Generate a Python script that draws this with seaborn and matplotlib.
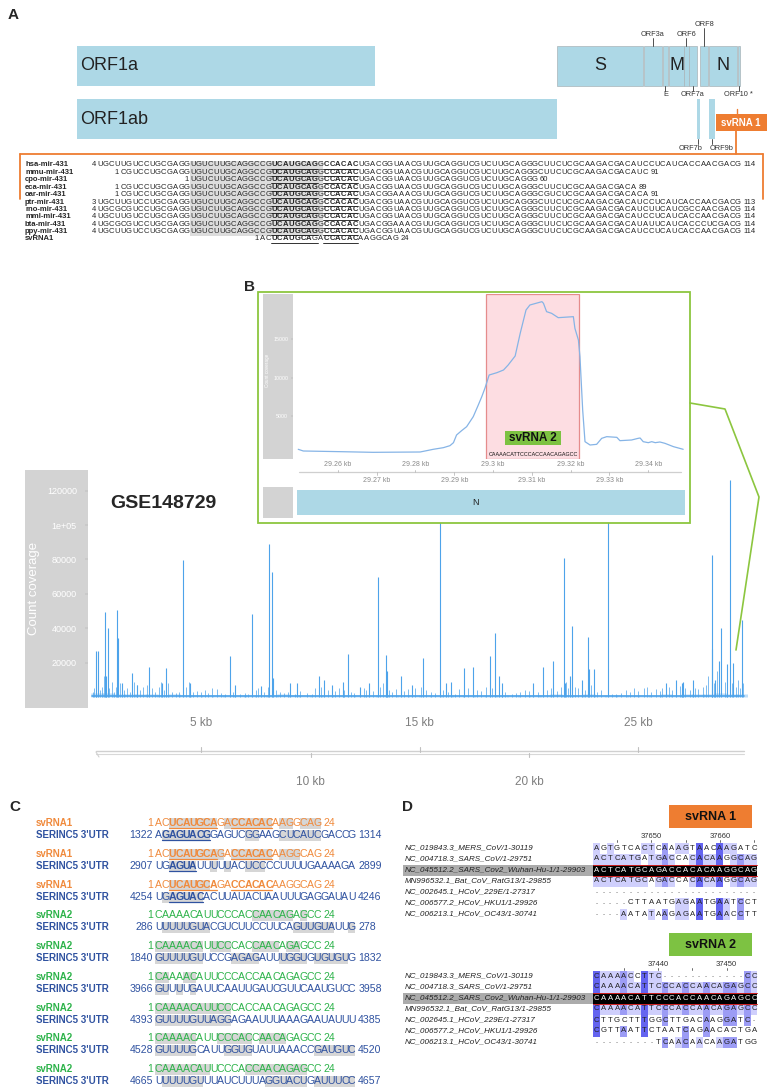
import numpy as np
import pandas as pd
import matplotlib
matplotlib.use("Agg")
import matplotlib.pyplot as plt
from matplotlib.patches import Rectangle
import seaborn as sns
from collections import Counter

W, H = 767, 1088

# ---------------- panel A: genome map (SARS-CoV-2 bp) ----------------
top_genes = ["S", "ORF3a", "E", "M", "ORF6", "ORF7a", "ORF8", "N", "ORF10"]
top_start = [21563, 25393, 26245, 26523, 27202, 27394, 27894, 28274, 29558]
top_end = [25384, 26220, 26472, 27191, 27387, 27759, 28259, 29533, 29674]
orf1a = (266, 13483)
orf1ab = (266, 21555)
low_genes = ["ORF7b", "ORF9b"]
low_start = [27756, 28284]
low_end = [27887, 28577]

# ---------------- panel A: mir-431 alignment ----------------
mir_names = ["hsa-mir-431", "mmu-mir-431", "cpo-mir-431", "eca-mir-431", "oar-mir-431",
             "ptr-mir-431", "rno-mir-431", "mml-mir-431", "bta-mir-431", "ppy-mir-431", "svRNA1"]
mir_first = [4, 1, 1, 1, 1, 3, 4, 4, 4, 4, 1]
mir_last = [114, 91, 60, 89, 91, 113, 114, 114, 114, 114, 24]
mir_offset = [0, 4, 16, 4, 4, 0, 0, 0, 0, 0, 28]
mir_seqs = [
    "UGCUUGUCCUGCGAGGUGUCUUGCAGGCCGUCAUGCAGGCCACACUGACGGUAACGUUGCAGGUCGUCUUGCAGGGCUUCUCGCAAGACGACAUCCUCAUCACCAACGACG",
    "CGUCCUGCGAGGUGUCUUGCAGGCCGUCAUGCAGGCCACACUGACGGUAACGUUGCAGGUCGUCUUGCAGGGCUUCUCGCAAGACGACAUC",
    "UGUCUUGCAGGCCGUCAUGCAGGCCACACUGACGGUAACGUUGCAGGUCGUCUUGCAGGG",
    "CGUCCUGCGAGGUGUCUUGCAGGCCGUCAUGCAGGCCACACUGACGGUAACGUUGCAGGUCGUCUUGCAGGGCUUCUCGCAAGACGACA",
    "CGUCCUGCGAGGUGUCUUGCAGGCCGUCAUGCAGGCCACACUGACGGAAACGUUGCAGGUCGUCUUGCAGGGCGUCUCGCAAGACGACACA",
    "UGCUUGUCCUGCGAGGUGUCUUGCAGGCCGUCAUGCAGGCCACACUGACGGUAACGUUGCAGGUCGUCUUGCAGGGCUUCUCGCAAGACGACAUCCUCAUCACCAACGACG",
    "UGCGCGUCCUGCGAGGUGUCUUGCAGGCCGUCAUGCAGGCCACACUGACGGUAACGUUGCAGGUCGUCUUGCAGGGCUUCUCGCAAGACGACAUCUUCAUCGCCAACGACG",
    "UGCUUGUCCUGCGAGGUGUCUUGCAGGCCGUCAUGCAGGCCACACUGACGGUAACGUUGCAGGUCGUCUUGCAGGGCUUCUCGCAAGACGACAUCCUCAUCACCAACGACG",
    "UGCGCGUCCUGCGAGGUGUCUUGCAGGCCGUCAUGCAGGCCACACUGACGGAAACGUUGCAGGUCGUCUUGCAGGGCUUCUCGCAAGACGACAUAUUCAUCACCCUCGACG",
    "UGCUUGUCCUGCGAGGUGUCUUGCAGGCCGUCAUGCAGGCCACACUGACGGUAACGUUGCAGGUCGUCUUGCAGGGCUUCUCGCAAGACGACAUCCUCAUCACCAACGACG",
    "ACUCAUGCAGACCACACAAGGCAG",
]
mir_bold_cols = [(30, 37), (39, 44)]
mir_grey_cols = (16, 38)

# ---------------- main coverage (GSE148729) ----------------
peak_kb = [0.17, 0.28, 0.61, 0.63, 0.72, 1.16, 1.18, 1.37, 1.84, 2.07, 2.62, 3.22, 3.40, 4.18,
           4.49, 6.30, 6.56, 7.31, 7.75, 8.12, 8.26, 8.28, 9.06, 9.36, 10.40, 10.62, 11.00,
           11.47, 11.70, 12.27, 12.69, 13.08, 13.45, 13.50, 14.14, 14.63, 15.13, 15.93, 16.19,
           16.42, 17.04, 17.42, 18.22, 18.44, 18.61, 18.75, 20.20, 20.63, 21.11, 21.60, 21.66,
           21.88, 21.95, 22.41, 22.69, 22.76, 22.95, 23.60, 26.25, 26.73, 27.00, 27.06, 27.49,
           28.35, 28.38, 28.51, 28.70, 28.79, 29.08, 29.20, 29.35, 29.73]
peak_cov = [27000, 27000, 49600, 12000, 40000, 50600, 34500, 8000, 14000, 7000, 17600, 8000, 16700, 79500,
            8000, 23600, 7000, 48000, 6500, 89000, 72800, 11000, 8000, 8000, 12000, 10000, 7000,
            9000, 25200, 6000, 8000, 69600, 24700, 15000, 12200, 7000, 22700, 118000, 8000,
            8500, 16700, 17500, 24000, 37400, 12400, 8000, 8000, 17600, 20900, 81000, 8000,
            12000, 41000, 10000, 35000, 16000, 16000, 104000, 8000, 10000, 8000, 9000, 10000,
            28000, 82600, 10000, 21000, 40000, 19000, 126000, 19500, 44800]
small_kb = [0.05, 0.10, 0.20, 0.35, 0.45, 0.55, 0.65, 0.80, 0.90, 1.00, 1.10, 1.30, 1.45, 1.60, 1.75,
            1.90, 2.05, 2.20, 2.35, 2.50, 2.75, 2.90, 3.05, 3.15, 3.30, 3.50, 3.65, 3.85, 4.00, 4.30,
            4.45, 4.60, 4.80, 5.00, 5.15, 5.30, 5.50, 5.70, 5.90, 6.10, 6.45, 6.75, 7.00, 7.15, 7.50,
            7.60, 7.85, 8.05, 8.40, 8.60, 8.80, 8.95, 9.30, 9.50, 9.85, 10.05, 10.20, 10.50, 10.80,
            11.10, 11.30, 11.55, 11.85, 12.00, 12.45, 12.55, 12.85, 13.20, 13.30, 13.60, 13.75, 13.90,
            14.30, 14.45, 14.80, 15.05, 15.30, 15.50, 15.70, 16.05, 16.30, 16.60, 16.80, 17.20, 17.60,
            17.80, 18.05, 18.30, 18.75, 18.90, 19.20, 19.40, 19.60, 19.80, 20.00, 20.40, 20.80, 21.00,
            21.30, 21.45, 21.70, 21.80, 22.10, 22.25, 22.55, 22.85, 23.10, 23.30, 23.80, 24.00, 24.20,
            24.45, 24.60, 24.80, 25.00, 25.25, 25.40, 25.60, 25.80, 26.00, 26.10, 26.40, 26.55, 26.90,
            27.15, 27.35, 27.60, 27.75, 27.95, 28.10, 28.20, 28.45, 28.60, 28.95, 29.05, 29.30, 29.45,
            29.55, 29.65, 29.80]
small_cov = [3000, 5000, 8000, 4000, 6000, 12000, 7000, 5000, 9000, 3000, 6000, 8000, 4000, 5000, 3000,
             9000, 7000, 4000, 6000, 7000, 5000, 3000, 6000, 9000, 4000, 8000, 3000, 2500, 3000, 6000,
             9000, 3000, 3500, 3000, 4000, 2500, 5000, 4500, 2500, 2000, 3000, 2000, 2500, 2000, 4000,
             5500, 3000, 6000, 4000, 3000, 2500, 3000, 2000, 3500, 2500, 2000, 5000, 6000, 4000,
             3500, 5000, 4000, 3000, 2500, 5000, 4000, 3500, 6000, 8000, 4000, 3000, 4500,
             3500, 4500, 5000, 6000, 4000, 3000, 2500, 4000, 3000, 2000, 4500, 5000, 4000,
             3500, 6000, 5000, 4000, 3000, 2000, 2500, 3000, 4000, 3500, 3000, 4000, 5000,
             3500, 6000, 9000, 5000, 6000, 5000, 4000, 7000, 3000, 4000, 2000, 2000, 2500,
             4000, 3000, 5000, 3500, 5000, 6000, 3000, 4500, 3500, 5000, 6000, 4000, 6500,
             5000, 4000, 5500, 4500, 6000, 7000, 12000, 8000, 15000, 9000, 12000, 8000, 6000,
             10000, 5000, 8000]
# low carpet of coverage, one value per 500 bp bin
carpet_cov = [2500, 2200, 1800, 2000, 1500, 1700, 1400, 1600, 1300, 1200,
              1300, 1100, 1200, 1000, 1300, 1400, 1200, 1500, 1100, 1000,
              1200, 1300, 1100, 1400, 1200, 1000, 1100, 1300, 1200, 1100,
              1000, 1200, 1400, 1100, 1000, 900, 1000, 1300, 1200, 1100,
              1000, 1300, 1500, 1400, 1200, 1600, 1300, 1100, 1000, 900,
              1100, 1300, 1500, 1400, 1700, 1600, 1900, 2100, 1800, 1500]
main_yticks = [20000, 40000, 60000, 80000, 100000, 120000]
main_ytick_labels = ["20000", "40000", "60000", "80000", "1e+05", "120000"]
main_xt_top = [5000, 15000, 25000]
main_xt_bottom = [10000, 20000]

# ---------------- inset B (N region) ----------------
ins_pos = [29249.8, 29251.1, 29260.6, 29269.1, 29281.2, 29282.9, 29284.6, 29287.2, 29288.9, 29289.8,
           29290.6, 29291.9, 29293.2, 29294.9, 29296.2, 29297.1, 29297.9, 29299.0, 29301.0, 29302.7,
           29303.9, 29305.7, 29307.0, 29308.5, 29309.5, 29312.6, 29313.0, 29313.8, 29315.1, 29316.8,
           29320.7, 29321.1, 29322.0, 29322.4, 29323.1, 29323.7, 29325.0, 29326.7, 29328.0, 29329.3,
           29331.9, 29332.7, 29335.7, 29337.4, 29337.9, 29338.7, 29340.0, 29340.9, 29341.8, 29343.0,
           29344.3, 29346.5, 29349.0]
ins_cov = [736, 517, 431, 345, 388, 560, 736, 947, 1206, 1593,
           2584, 3144, 3660, 4953, 6460, 7537, 8613, 10336, 10637, 10982,
           11628, 12791, 15719, 18734, 19380, 19811, 19595, 18518, 18303, 17743,
           17872, 16365, 14857, 12705, 5814, 1722, 1292, 1378, 2153, 2369,
           2282, 1852, 1938, 2153, 2196, 1722, 1593, 1722, 1593, 1680,
           1507, 1077, 736]
ins_yticks = [5000, 10000, 15000]
ins_xt_top = [29260, 29280, 29300, 29320, 29340]
ins_xt_top_lab = ["29.26 kb", "29.28 kb", "29.3 kb", "29.32 kb", "29.34 kb"]
ins_xt_bot = [29270, 29290, 29310, 29330]
ins_xt_bot_lab = ["29.27 kb", "29.29 kb", "29.31 kb", "29.33 kb"]
sv2_span = (29298.2, 29322.2)
sv2_seq = "CAAAACATTCCCACCAACAGAGCC"

# ---------------- panel C ----------------
c_query = ["svRNA1"] * 3 + ["svRNA2"] * 6
c_query_seq = {"svRNA1": "ACUCAUGCAGACCACACAAGGCAG", "svRNA2": "CAAAACAUUCCCACCAACAGAGCC"}
c_target_seq = ["AGAGUACGGAGUCGGAAGCUCAUCGACCG", "UGAGUAUUUUUACUCCCCUUUUGAAAAGA",
                "UGAGUACACUUAUACUAAUUUGAGGAUAU", "UUUUUGUACGUCUUCCUUCAGUUGUAUUG",
                "GUUUUGUUCCGAGAGAUUUGGUGUGUGUG", "GUUUUGAUUCAAUUGAUCGUUCAAUGUCC",
                "GUUUUGUUAGGAGAAUUUAAAGAAUAUUU", "GUUUUGCAUUGGUGUAUUAAACCGAUGUC",
                "UUUUUGUUUAUCUUUAGGUACUGAUUUCC"]
c_target_from = [1322, 2907, 4254, 286, 1840, 3966, 4393, 4528, 4665]
c_target_to = [1314, 2899, 4246, 278, 1832, 3958, 4385, 4520, 4657]
c_q_grey = [[2, 3, 4, 5, 6, 7, 8, 10, 11, 12, 13, 14, 15, 16, 18, 19, 21, 22, 23],
            [2, 3, 4, 5, 6, 7, 8, 9, 11, 12, 13, 14, 15, 16, 18, 19, 20],
            [2, 3, 4, 5, 6, 7],
            [14, 15, 16, 17, 18, 19, 21],
            [0, 1, 2, 3, 4, 5, 6, 8, 9, 10, 14, 15, 16, 17, 19, 20],
            [0, 1, 4, 5],
            [0, 1, 2, 3, 4, 5, 6, 7, 8, 9, 10],
            [0, 1, 2, 3, 4, 5, 9, 10, 11, 12, 13, 15, 16, 17, 18],
            [0, 1, 2, 3, 4, 5, 6, 7, 13, 14, 15, 16, 17, 18, 19, 20, 21]]
c_t_grey = [[1, 2, 3, 4, 5, 6, 7, 13, 14, 18, 19, 20, 21, 22, 23],
            [2, 3, 4, 5, 8, 10, 13, 14, 15],
            [1, 2, 3, 4, 5, 6],
            [1, 2, 3, 4, 5, 6, 7, 20, 21, 22, 23, 24, 25, 28],
            [0, 1, 2, 3, 4, 5, 6, 11, 12, 13, 14, 18, 19, 20, 21, 23, 24, 25, 26, 27],
            [0, 1, 3, 5],
            [0, 1, 2, 3, 4, 5, 6, 7, 8, 9, 10],
            [0, 1, 2, 3, 4, 5, 10, 11, 12, 13, 23, 24, 25, 26, 27, 28],
            [1, 2, 3, 4, 5, 6, 16, 17, 18, 19, 20, 21, 23, 24, 25, 26, 27, 28]]
c_q_bold = [[(2, 8), (11, 16)]] * 3 + [[]] * 6
c_t_bold = [[(1, 7)], [(2, 5)], [(2, 6)]] + [[]] * 6

# ---------------- panel D ----------------
d_names = ["NC_019843.3_MERS_CoV/1-30119", "NC_004718.3_SARS_CoV/1-29751",
           "NC_045512.2_SARS_Cov2_Wuhan-Hu-1/1-29903", "MN996532.1_Bat_CoV_RatG13/1-29855",
           "NC_002645.1_HCoV_229E/1-27317", "NC_006577.2_HCoV_HKU1/1-29926",
           "NC_006213.1_HCoV_OC43/1-30741"]
d1_seqs = ["AGTGTCACTCAAAGTAACAAGATC", "ACTCATGATGACCACACAAGGCAG", "ACTCATGCAGACCACACAAGGCAG",
           "ACTCATGCAGACCACACAAGGCAG", "------------------------", "-----CTTAATGAGAATGAATCCT",
           "----AATATAAGAGAATGAACCTT"]
d2_seqs = ["CAAAACCTTC------------CC", "CAAAACATTCCCACCAACAGAGCC", "CAAAACATTCCCACCAACAGAGCC",
           "CAAAACATTCCCACCAACAGAGCC", "CTTGCTTTGGCTTGACAAGGATC-", "CGTTAATTCTAATCAGAACACTGA",
           "---------TCAACAACAAGATGG"]
d1_ticks = {8: "37650", 18: "37660"}
d1_minor = [3, 13, 23]
d2_ticks = {9: "37440", 19: "37450"}
d2_minor = [4, 14]
d_ref_row = 2

# ---------------- style ----------------
LIGHTBLUE = "#ADD8E6"
ORANGE = "#EE7D31"
GREEN = "#8CC63F"
C_ORANGE = "#F08A3C"
C_BLUE = "#2F52A0"
C_GREEN = "#2DB34A"
COV_BLUE = "#4DA3EA"

sns.set_theme(style="white")
plt.rcParams["font.family"] = ["Liberation Sans", "DejaVu Sans"]
NARROW = ["Liberation Sans Narrow", "Liberation Sans", "DejaVu Sans"]

fig = plt.figure(figsize=(W / 100, H / 100), dpi=100)


def px_axes(x0, y0, x1, y1, z):
    ax = fig.add_axes([x0 / W, 1 - y1 / H, (x1 - x0) / W, (y1 - y0) / H])
    ax.set_zorder(z)
    ax.patch.set_alpha(0)
    for s in ax.spines.values():
        s.set_visible(False)
    ax.grid(False)
    return ax


def canvas(z):
    ax = px_axes(0, 0, W, H, z)
    ax.set_xlim(0, W)
    ax.set_ylim(H, 0)
    ax.axis("off")
    return ax


def box(ax, x0, x1, y0, y1, **kw):
    ax.add_patch(Rectangle((x0, y0), x1 - x0, y1 - y0, **kw))


bg = canvas(0)

# panel letters
for lab, (lx, ly) in {"A": (8, 15), "B": (244, 287), "C": (9, 807), "D": (402, 807)}.items():
    bg.text(lx, ly, lab, fontsize=11, fontweight="bold", va="center", ha="left")

# ================= Panel A: genome tracks =================
axA = px_axes(0, 0, W, 160, 1)
axA.set_xlim(-3149, 30865)
axA.set_ylim(160, 0)
axA.axis("off")

box(axA, orf1a[0], orf1a[1], 46, 86, fc=LIGHTBLUE, ec="none")
box(axA, orf1ab[0], orf1ab[1], 99, 139, fc=LIGHTBLUE, ec="none")
for g, s, e in zip(top_genes, top_start, top_end):
    box(axA, s, e, 46, 86, fc=LIGHTBLUE, ec="#a9b4b8", lw=0.5)
for g, s, e in zip(low_genes, low_start, low_end):
    box(axA, s, e, 99, 139, fc=LIGHTBLUE, ec="none")

axA.text(orf1a[0] + 150, 66, "ORF1a", fontsize=13, va="center", family=NARROW, color="#222")
axA.text(orf1ab[0] + 150, 119, "ORF1ab", fontsize=13, va="center", family=NARROW, color="#222")
for g in ["S", "M", "N"]:
    i = top_genes.index(g)
    axA.text((top_start[i] + top_end[i]) / 2, 66, g, fontsize=13, ha="center", va="center",
             family=NARROW, color="#222")

small_kw = dict(fontsize=5.3, ha="center", va="center", color="#333", family=NARROW)
for g, ty, t0, t1 in [("ORF3a", 34, 38, 46), ("ORF6", 34, 38, 46), ("ORF8", 24, 28, 46)]:
    i = top_genes.index(g)
    mid = (top_start[i] + top_end[i]) / 2
    axA.plot([mid, mid], [t0, t1], color="#333", lw=0.6)
    axA.text(mid, ty, g, **small_kw)
for g, lab in [("E", "E"), ("ORF7a", "ORF7a"), ("ORF10", "ORF10 *")]:
    i = top_genes.index(g)
    mid = (top_start[i] + top_end[i]) / 2
    axA.plot([mid, mid], [86, 91], color="#333", lw=0.6)
    axA.text(mid, 95, lab, **small_kw)
for g, dx in zip(low_genes, [-350, 400]):
    i = low_genes.index(g)
    mid = (low_start[i] + low_end[i]) / 2
    axA.plot([mid, mid], [139, 144], color="#333", lw=0.6)
    axA.text(mid + dx, 148, g, **small_kw)

# svRNA1 tag + orange bracket
bg.add_patch(Rectangle((716, 114), 51, 17, fc=ORANGE, ec="none"))
bg.text(741, 122.5, "svRNA 1", fontsize=7, fontweight="bold", color="white", ha="center", va="center")
bg.plot([737, 737], [109, 114], color=ORANGE, lw=1)
bg.plot([736, 736], [131, 154], color=ORANGE, lw=1.3)
bg.plot([20, 763], [154, 154], color=ORANGE, lw=1.3)
bg.plot([20, 20], [154, 199], color=ORANGE, lw=1.3)
bg.plot([763, 763], [154, 199], color=ORANGE, lw=1.3)

# mir-431 alignment
pa, xa, ya, dya, fsa = 5.8, 100, 165, 7.4, 5.5
g0, g1 = mir_grey_cols
bg.add_patch(Rectangle((xa + g0 * pa - pa / 2, ya - 4), (g1 - g0 + 1) * pa, 9 * dya + 8,
                       fc="#dcdcdc", ec="none"))
for i, (nm, st, en, off, seq) in enumerate(zip(mir_names, mir_first, mir_last, mir_offset, mir_seqs)):
    y = ya + i * dya
    bg.text(25, y, nm, fontsize=fsa, fontweight="bold", va="center")
    bg.text(xa + off * pa - 4, y, str(st), fontsize=fsa, ha="right", va="center")
    for j, c in enumerate(seq):
        col = off + j
        bold = any(a <= col <= b for a, b in mir_bold_cols)
        if nm == "svRNA1" and col == 37:
            bold = False
        bg.text(xa + col * pa, y, c, fontsize=fsa, ha="center", va="center",
                fontweight="bold" if bold else "normal")
    bg.text(xa + (off + len(seq) - 1) * pa + 5, y, str(en), fontsize=fsa, ha="left", va="center")
    for a, b in mir_bold_cols:
        if off <= a and b < off + len(seq):
            bg.plot([xa + a * pa - pa / 2, xa + b * pa + pa / 2], [y + 3.6, y + 3.6], color="#111", lw=0.6)

# ================= Main coverage =================
bg.add_patch(Rectangle((25, 470), 63, 238, fc="#d3d3d3", ec="none"))
bg.text(34, 588, "Count coverage", rotation=90, fontsize=9.5, color="white", ha="center", va="center")

axM = px_axes(88, 470, 748, 708, 1)
axM.set_xlim(-183, 30020)
axM.set_ylim(-6395, 131977)
small_bp = np.array(small_kb) * 1000
peak_bp = np.array(peak_kb) * 1000
carpet_bp = np.arange(len(carpet_cov)) * 500 + 250
axM.vlines(carpet_bp, 0, carpet_cov, color=COV_BLUE, lw=9, alpha=0.35)
axM.vlines(small_bp, 0, small_cov, color=COV_BLUE, lw=0.6, alpha=0.85)
axM.vlines(peak_bp, 0, peak_cov, color=COV_BLUE, lw=0.8)
axM.plot([0, 29850], [300, 300], color=COV_BLUE, lw=1.2)
axM.set_xticks([])
axM.set_yticks(main_yticks)
axM.set_yticklabels(main_ytick_labels)
axM.tick_params(axis="y", length=2, color="#c8c8c8", pad=6, labelsize=6.5, labelcolor="white", left=True)

axX = px_axes(88, 712, 748, 795, 1)
axX.set_xlim(-183, 30020)
axX.set_ylim(795, 712)
axX.axis("off")
axX.plot([183, 29840], [751, 751], color="#d0d0d0", lw=1.0)
axX.plot([183, 29840], [753.5, 753.5], color="#d8d8d8", lw=0.8)
axX.plot([183, 320], [752, 757], color="#d0d0d0", lw=0.8)
for t in main_xt_top:
    axX.plot([t, t], [747, 752], color="#c0c0c0", lw=0.8)
    axX.text(t, 723, f"{t // 1000} kb", fontsize=8.5, color="#7f7f7f", ha="center", va="center")
for t in main_xt_bottom:
    axX.plot([t, t], [753, 757], color="#c0c0c0", lw=0.8)
    axX.text(t, 782, f"{t // 1000} kb", fontsize=8.5, color="#7f7f7f", ha="center", va="center")

# ================= Inset B =================
ovl = canvas(2)
ovl.add_patch(Rectangle((258, 292), 432, 231, fc="white", ec=GREEN, lw=1.3))
ovl.add_patch(Rectangle((263, 294), 30, 165, fc="#d3d3d3", ec="none"))
ovl.add_patch(Rectangle((263, 487), 30, 31, fc="#d3d3d3", ec="none"))
ovl.text(267, 370, "Count coverage", rotation=90, fontsize=3.3, color="white", ha="center", va="center")
ovl.text(110, 503, "GSE148729", fontsize=14, fontweight="bold", va="center", family=NARROW)

axI = px_axes(293, 294, 689, 459, 3)
axI.set_xlim(29248.45, 29350.5)
axI.set_ylim(-517, 20801)
axI.axvspan(sv2_span[0], sv2_span[1], fc="#FDDDE2", ec="#E58C8C", lw=0.9)
sns.lineplot(x=ins_pos, y=ins_cov, ax=axI, color="#86B4E6", lw=0.9)
axI.set_xticks([])
axI.set_yticks(ins_yticks)
axI.set_yticklabels([str(v) for v in ins_yticks])
axI.tick_params(axis="y", length=1.5, color="#c8c8c8", pad=2, labelsize=3.8, labelcolor="white", left=True)
axI.set_xlabel("")
axI.set_ylabel("")

axIX = px_axes(293, 459, 689, 487, 3)
axIX.set_xlim(29248.45, 29350.5)
axIX.set_ylim(487, 459)
axIX.axis("off")
axIX.plot([29250, 29348.5], [472, 472], color="#cfcfcf", lw=0.9)
for t, lab in zip(ins_xt_top, ins_xt_top_lab):
    axIX.plot([t, t], [469.5, 472], color="#bbbbbb", lw=0.6)
    axIX.text(t, 465, lab, fontsize=5, color="#8a8a8a", ha="center", va="center")
for t, lab in zip(ins_xt_bot, ins_xt_bot_lab):
    axIX.plot([t, t], [472, 474.5], color="#bbbbbb", lw=0.6)
    axIX.text(t, 481, lab, fontsize=5, color="#8a8a8a", ha="center", va="center")

axG = px_axes(297, 490, 685, 515, 3)
axG.set_xlim(29252, 29347)
axG.set_ylim(0, 1)
axG.axis("off")
iN = top_genes.index("N")
axG.add_patch(Rectangle((top_start[iN], 0), top_end[iN] - top_start[iN], 1, fc=LIGHTBLUE, ec="none"))
axG.text(0.46, 0.5, "N", transform=axG.transAxes, fontsize=6.5, ha="center", va="center", color="#222")

top = canvas(4)
top.add_patch(Rectangle((505, 431), 56, 14, fc="#7DC242", ec="none"))
top.text(533, 438, "svRNA 2", fontsize=8.5, fontweight="bold", ha="center", va="center", color="#111")
top.text(533, 454.5, sv2_seq, fontsize=3.9, ha="center", va="center", color="#111")
top.plot([690, 725, 759, 736], [403, 409, 497, 650], color=GREEN, lw=1.2)

# ================= Panel C =================
pc, xc, fsc = 6.9, 158.5, 7
c_y = [823, 854, 885, 915, 946, 977, 1008, 1038, 1069]


def draw_pair_row(y, seq, color, grey_idx, bold_ranges):
    for j in grey_idx:
        bg.add_patch(Rectangle((xc + j * pc - pc / 2, y - 5.5), pc, 11, fc="#d6d6d6", ec="none"))
    for j, c in enumerate(seq):
        bold = any(a <= j <= b for a, b in bold_ranges)
        bg.text(xc + j * pc, y, c, fontsize=fsc + 0.6, color=color, ha="center", va="center",
                fontweight="bold" if bold else "normal")
    for a, b in bold_ranges:
        bg.plot([xc + a * pc - pc / 2, xc + b * pc + pc / 2], [y + 5, y + 5], color=color, lw=0.9)


for k in range(9):
    qname = c_query[k]
    qcol = C_ORANGE if qname == "svRNA1" else C_GREEN
    qseq = c_query_seq[qname]
    yq, yt = c_y[k], c_y[k] + 12
    bg.text(36, yq, qname, fontsize=fsc, fontweight="bold", color=qcol, va="center")
    bg.text(36, yt, "SERINC5 3'UTR", fontsize=fsc, fontweight="bold", color=C_BLUE, va="center")
    draw_pair_row(yq, qseq, qcol, c_q_grey[k], c_q_bold[k])
    draw_pair_row(yt, c_target_seq[k], C_BLUE, c_t_grey[k], c_t_bold[k])
    bg.text(xc - pc / 2 - 2, yq, "1", fontsize=fsc + 0.6, color=qcol, ha="right", va="center")
    bg.text(xc + (len(qseq) - 0.5) * pc + 3, yq, "24", fontsize=fsc + 0.6, color=qcol, va="center")
    bg.text(xc - pc / 2 - 2, yt, str(c_target_from[k]), fontsize=fsc + 0.6, color=C_BLUE, ha="right",
            va="center")
    bg.text(xc + (len(c_target_seq[k]) - 0.5) * pc + 3, yt, str(c_target_to[k]), fontsize=fsc + 0.6,
            color=C_BLUE, va="center")

# ================= Panel D =================
pd_, xd, fsd = 6.85, 596.5, 5.6
shade = [(0.8, "#6464F0"), (0.6, "#9C9CF5"), (0.4, "#CFCFFC")]


def draw_msa(seqs, y0, tag, tag_color, ticks, minor):
    box(bg, 669, 752, y0 - 43, y0 - 20, fc=tag_color, ec="none")
    bg.text(710.5, y0 - 31.5, tag, fontsize=9, fontweight="bold", ha="center", va="center", color="#111")
    for col, lab in ticks.items():
        bg.text(xd + col * pd_, y0 - 12, lab, fontsize=5.5, ha="center", va="center", color="#333")
    for col in list(ticks) + minor:
        bg.plot([xd + col * pd_, xd + col * pd_], [y0 - 8, y0 - 6], color="#555", lw=0.6)
    n = len(seqs)
    for r, (nm, seq) in enumerate(zip(d_names, seqs)):
        y = y0 + r * 11
        if r == d_ref_row:
            box(bg, 403, 593, y - 5.5, y + 5.5, fc="#ababab", ec="none")
            box(bg, 593, xd + (len(seq) - 0.5) * pd_, y - 5.5, y + 5.5, fc="black", ec="none")
            bg.plot([593, xd + (len(seq) - 0.5) * pd_], [y - 5.5, y - 5.5], color="#d02020", lw=0.7)
            bg.plot([593, xd + (len(seq) - 0.5) * pd_], [y + 5.5, y + 5.5], color="#d02020", lw=0.7)
        bg.text(405, y, nm, fontsize=5.75, style="italic", va="center", color="#222")
        for j, c in enumerate(seq):
            x = xd + j * pd_
            if c == "-":
                bg.text(x, y + 1, "-", fontsize=4.5, ha="center", va="center", color="#444")
                continue
            if r == d_ref_row:
                bg.text(x, y, c, fontsize=fsd, ha="center", va="center", color="white")
                continue
            column = [s[j] for s in seqs if s[j] != "-"]
            cons, cnt = Counter(column).most_common(1)[0]
            frac = cnt / n
            if c == cons:
                for thr, colr in shade:
                    if frac > thr:
                        box(bg, x - pd_ / 2, x + pd_ / 2, y - 5.5, y + 5.5, fc=colr, ec="none")
                        break
            bg.text(x, y, c, fontsize=fsd, ha="center", va="center", color="#222")


draw_msa(d1_seqs, 848, "svRNA 1", ORANGE, d1_ticks, d1_minor)
draw_msa(d2_seqs, 976, "svRNA 2", "#7DC242", d2_ticks, d2_minor)

fig.savefig("out.png", dpi=100)
